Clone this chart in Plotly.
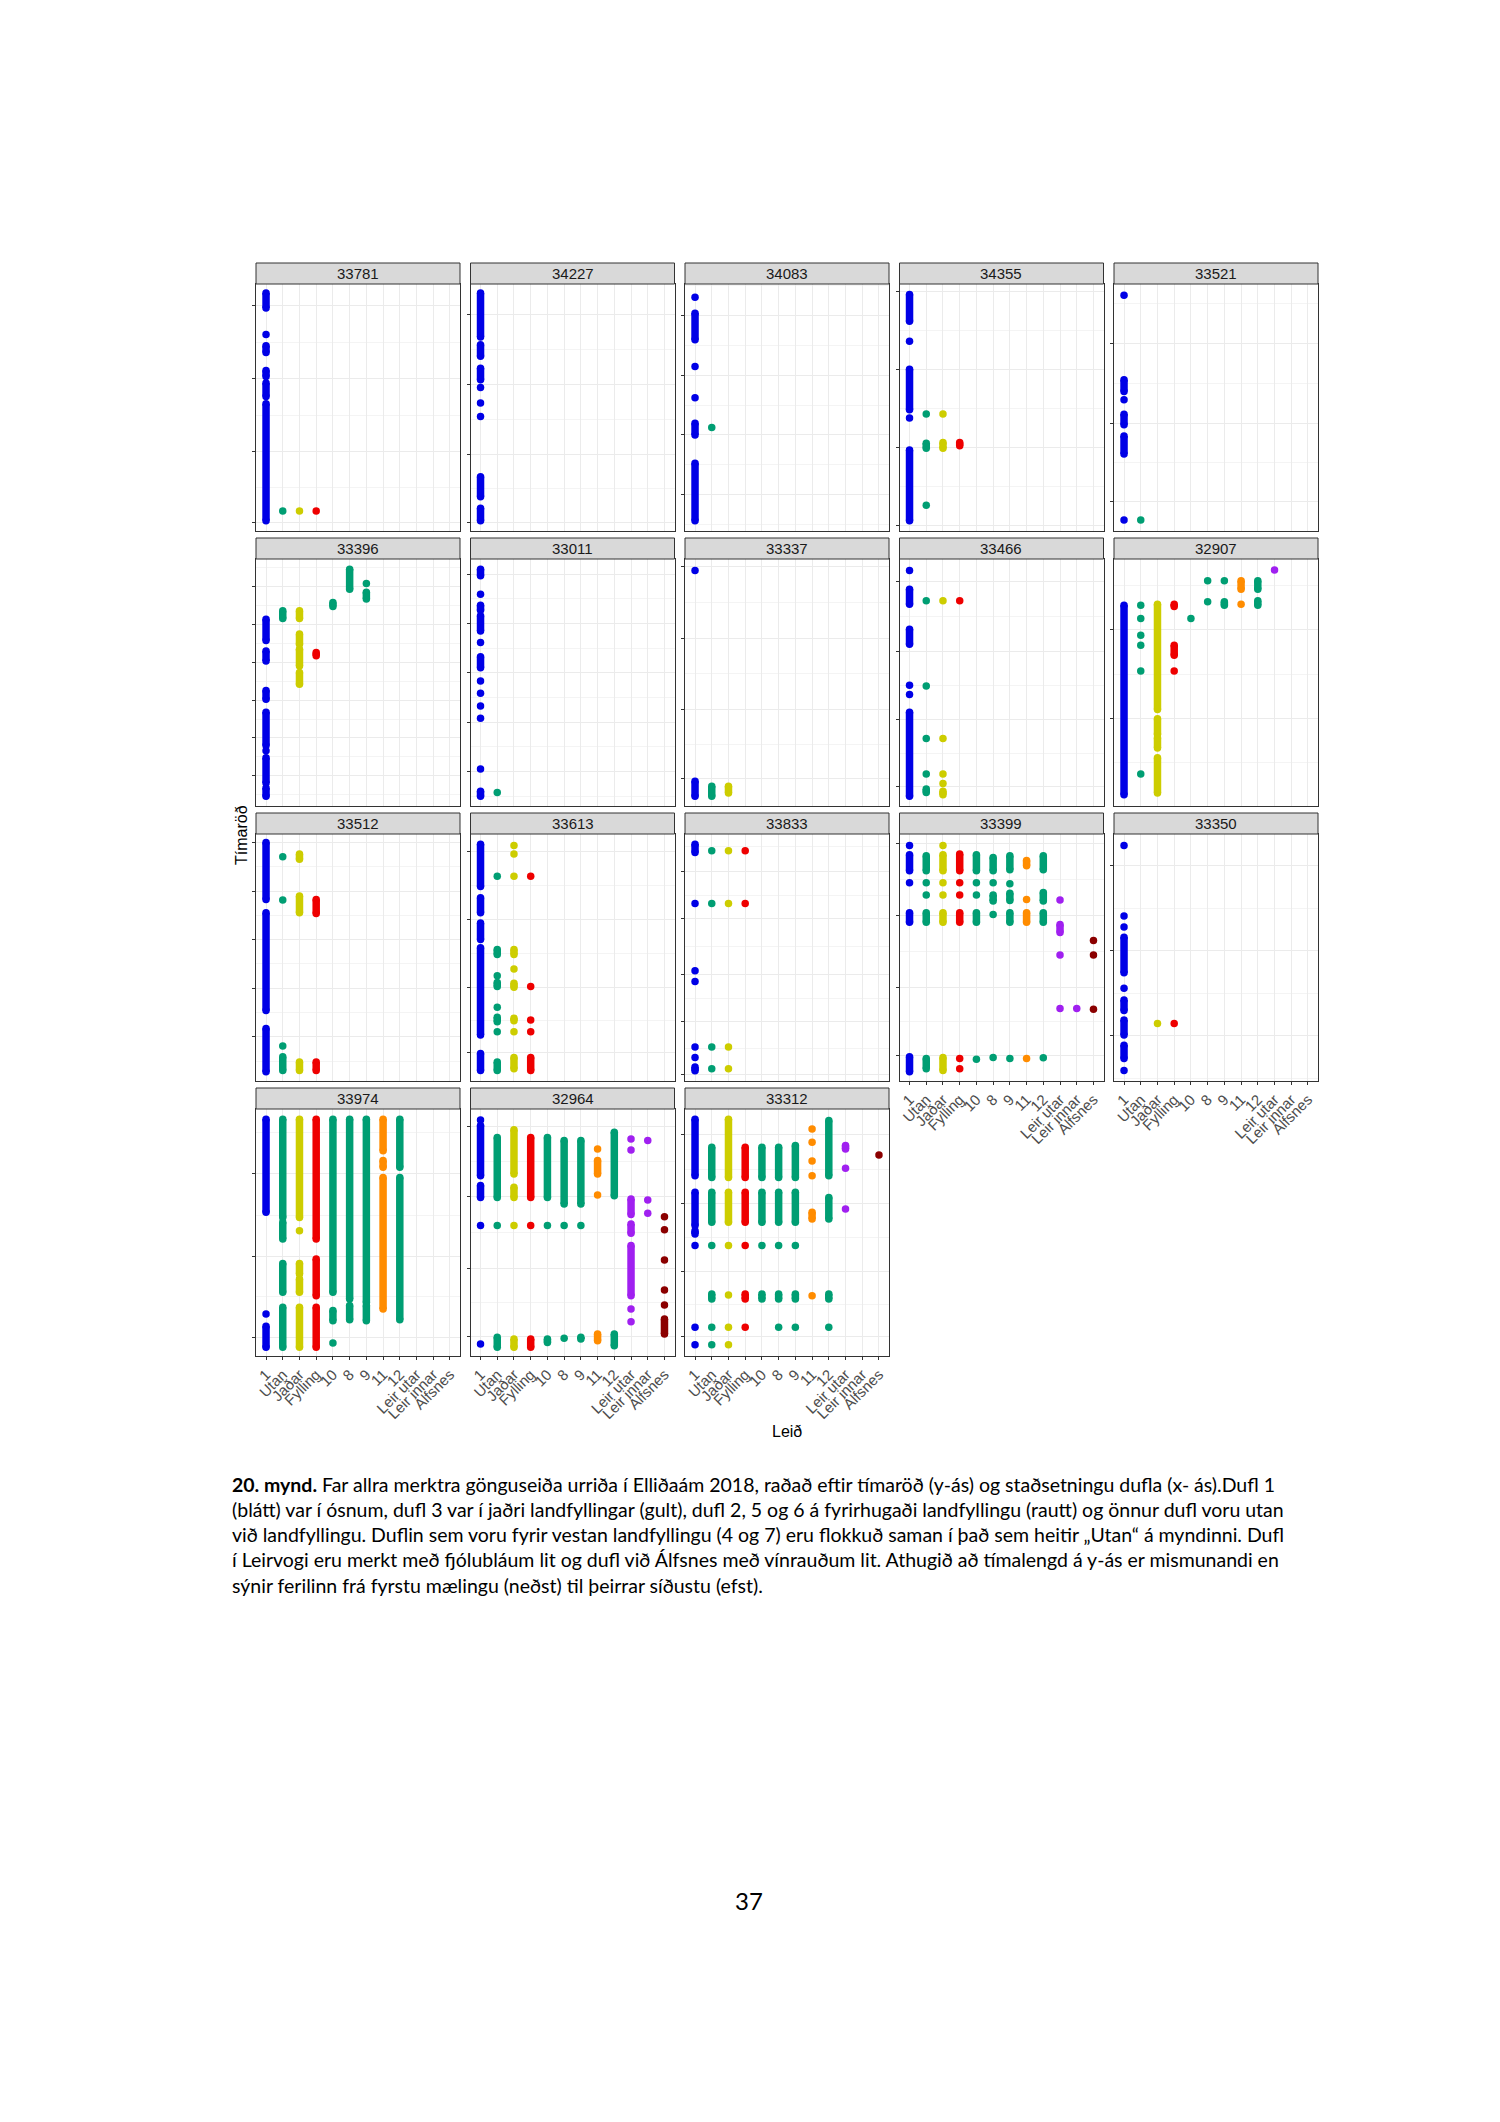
import plotly.graph_objects as go

# ---------------- data ----------------
CATEGORIES = ["1", "Utan", "Jaðar", "Fylling", "10", "8", "9", "11", "12",
              "Leir utar", "Leir innar", "Álfsnes"]
CAT_COLORS = ["#0000E6", "#009E73", "#CDCD00", "#EE0000", "#009E73", "#009E73",
              "#009E73", "#FF8C00", "#009E73", "#A020F0", "#A020F0", "#8B0000"]

PANEL_ORDER = ["33781", "34227", "34083", "34355", "33521",
               "33396", "33011", "33337", "33466", "32907",
               "33512", "33613", "33833", "33399", "33350",
               "33974", "32964", "33312"]

# Time order (relative, 0 = first, 100 = last of panel range).
# A pair (lo, hi) is a run of consecutive, overlapping detections.
D_33781 = {"1": [(90.3, 96.4), 79.6, (72.3, 75.0), (62.6, 65.0), (54.5, 59.9), (4.2, 51.5)],
           "Utan": [8.1], "Jaðar": [8.1], "Fylling": [8.1]}
D_34227 = {"1": [(78.5, 96.4), (70.7, 75.4), (61.2, 65.9), 58.1, 51.8, 46.4, (13.9, 22.0), (4.2, 9.2)]}
D_34083 = {"1": [94.6, (77.4, 88.2), 66.6, 53.9, (38.9, 43.6), (4.2, 27.4)],
           "Utan": [41.9]}
D_34355 = {"1": [(84.9, 95.7), 76.8, (49.1, 65.5), 45.7, (4.2, 32.8)],
           "Utan": [47.4, (33.5, 35.5), 10.4],
           "Jaðar": [47.4, (33.5, 35.8)],
           "Fylling": [(34.5, 35.8)]}
D_33521 = {"1": [95.4, (56.5, 61.2), 53.1, (43.0, 47.3), (31.2, 38.5), 4.5],
           "Utan": [4.5]}
D_33396 = {"1": [(67.0, 75.6), (58.7, 62.8), (43.2, 46.8), (24.5, 38.0), 22.4, (9.3, 19.5), (3.9, 7.3)],
           "Utan": [(75.9, 79.0)],
           "Jaðar": [(75.9, 79.0), (65.5, 69.6), (56.7, 63.5), (49.3, 54.0)],
           "Fylling": [(60.8, 62.1)],
           "10": [(80.8, 82.4)],
           "8": [(87.8, 95.9)],
           "9": [90.1, (83.8, 86.5)]}
D_33011 = {"1": [(93.2, 95.9), 85.7, (79.3, 81.3), (70.9, 77.0), 66.2, (56.0, 60.4), 50.6, 45.6,
                 40.5, 35.5, 15.0, (3.9, 6.0)],
           "Utan": [5.5]}
D_33337 = {"1": [95.3, (3.9, 10.0)],
           "Utan": [(3.9, 8.0)],
           "Jaðar": [(5.3, 8.0)]}
D_33466 = {"1": [95.3, (81.7, 87.8), (65.5, 71.6), 48.9, 45.1, (3.9, 38.0)],
           "Utan": [83.1, 48.6, 27.3, 13.0, (5.5, 6.9)],
           "Jaðar": [83.1, 27.3, 13.0, 9.1, (4.6, 6.0)],
           "Fylling": [83.1]}
D_32907 = {"1": [(4.6, 81.3)],
           "Utan": [81.3, 75.9, 69.1, 65.1, 54.7, 13.0],
           "Jaðar": [(39.1, 81.7), (29.0, 35.3), (23.5, 27.6), (5.3, 19.5)],
           "Fylling": [(80.8, 81.7), (61.0, 65.1), 54.7],
           "10": [75.9],
           "8": [91.2, 82.7],
           "9": [91.2, (81.3, 82.7)],
           "11": [(87.8, 91.2), 81.7],
           "12": [(87.8, 91.2), (81.3, 83.1)],
           "Leir utar": [95.5]}
D_33512 = {"1": [(73.5, 96.6), (28.5, 68.1), (3.7, 21.3)],
           "Utan": [90.8, 73.3, 14.2, (4.3, 9.8)],
           "Jaðar": [(89.8, 91.9), (68.1, 74.9), (4.3, 7.7)],
           "Fylling": [(67.8, 73.5), (4.3, 7.7)]}
D_33613 = {"1": [(78.7, 95.9), (68.1, 74.2), (57.3, 64.0), (18.6, 53.9), (4.3, 11.1)],
           "Utan": [82.9, (51.2, 53.2), 42.6, (38.3, 39.9), 29.9, (24.0, 25.8), 19.9, (4.3, 7.7)],
           "Jaðar": [95.3, 91.9, 82.9, (51.2, 53.2), 45.3, (38.0, 39.6), (24.4, 25.4), 19.9, (5.0, 9.5)],
           "Fylling": [82.9, 38.3, 24.7, 19.9, (4.3, 9.5)]}
D_33833 = {"1": [(92.5, 95.9), 71.9, 44.6, 40.3, 13.8, 9.5, (4.1, 5.7)],
           "Utan": [93.2, 71.9, 13.8, 5.0],
           "Jaðar": [93.2, 71.9, 13.8, 5.0],
           "Fylling": [93.2, 71.9]}
D_33399 = {"1": [95.3, (85.1, 91.6), 80.3, (64.3, 68.1), (3.7, 9.8)],
           "Utan": [(85.1, 91.2), 80.3, 75.3, (64.3, 68.1), (5.0, 9.1)],
           "Jaðar": [95.3, (85.1, 91.6), 80.3, 75.3, (64.3, 68.1), (4.3, 9.5)],
           "Fylling": [(85.1, 91.9), 80.3, 75.3, (64.3, 68.1), 9.1, 5.0],
           "10": [(85.1, 91.6), 80.3, 75.3, (64.3, 68.1), 8.8],
           "8": [(85.1, 90.5), 80.3, (72.9, 75.3), 67.4, 9.5],
           "9": [(85.5, 91.2), 79.9, (73.1, 76.0), (64.3, 68.1), 9.1],
           "11": [(87.1, 89.3), 73.5, (64.3, 68.1), 9.1],
           "12": [(85.5, 91.2), (72.9, 76.3), (64.3, 68.1), 9.4],
           "Leir utar": [73.3, (60.1, 63.4), 51.0, 29.4],
           "Leir innar": [29.4],
           "Álfsnes": [56.9, 51.0, 29.0]}
D_33350 = {"1": [95.3, 66.8, 62.3, (43.8, 58.2), 37.6, (28.5, 32.8), (18.6, 24.7), (9.1, 14.5), 4.3],
           "Jaðar": [23.3],
           "Fylling": [23.3]}
D_33974 = {"1": [(58.2, 95.9), 17.0, (3.5, 12.0)],
           "Utan": [(56.1, 95.9), (47.4, 54.1), (25.8, 37.5), (3.5, 19.7)],
           "Jaðar": [(56.1, 95.9), 50.7, (33.2, 37.5), (25.8, 31.2), (3.5, 19.7)],
           "Fylling": [(47.4, 95.9), (24.4, 39.3), (3.5, 19.7)],
           "10": [(25.8, 95.9), (14.3, 18.4), 5.3],
           "8": [(23.1, 95.9), (14.7, 20.4)],
           "9": [(21.7, 95.9), (14.3, 20.4)],
           "11": [(83.1, 95.9), (76.4, 79.1), (19.0, 72.3)],
           "12": [(76.4, 95.9), (14.7, 72.3)]}
D_32964 = {"1": [95.5, (73.0, 93.3), (64.2, 69.0), 52.8, 4.9],
           "Utan": [(64.2, 88.5), 52.8, (3.5, 7.6)],
           "Jaðar": [(73.7, 91.6), (64.2, 68.3), 52.8, (3.5, 6.9)],
           "Fylling": [(64.2, 88.5), 52.8, (3.5, 6.9)],
           "10": [(64.2, 88.5), 52.8, (5.5, 6.9)],
           "8": [(61.5, 87.2), 52.8, 7.2],
           "9": [(61.5, 87.2), 52.8, (6.9, 7.6)],
           "11": [83.8, (73.7, 79.1), 65.2, (6.2, 8.9)],
           "12": [(64.9, 90.6), (4.2, 8.9)],
           "Leir utar": [87.9, 83.4, (57.3, 63.6), (49.7, 53.4), (24.4, 44.7), 19.0, 13.9],
           "Leir innar": [87.2, 63.2, 57.8],
           "Álfsnes": [56.4, 51.1, 38.9, 26.7, 20.6, (8.9, 15.0)]}
D_33312 = {"1": [(73.0, 95.9), (52.8, 66.3), (49.4, 50.7), 44.7, 11.6, 4.6],
           "Utan": [(72.3, 84.5), (54.1, 66.3), 44.7, (23.1, 25.1), 11.6, 4.6],
           "Jaðar": [(72.3, 95.9), (54.1, 66.3), 44.7, 24.7, 11.6, 4.6],
           "Fylling": [(72.3, 84.5), (54.1, 66.3), 44.7, (23.1, 25.1), 11.6],
           "10": [(72.3, 84.5), (54.1, 66.3), 44.7, (23.1, 25.1)],
           "8": [(72.3, 84.5), (54.1, 66.3), 44.7, (23.1, 25.1), 11.6],
           "9": [(72.3, 85.2), (54.1, 66.3), 44.7, (23.1, 25.1), 11.6],
           "11": [91.9, 86.5, 78.9, 73.0, (55.5, 58.2), 24.4],
           "12": [(73.0, 95.3), (55.5, 64.2), (23.1, 25.1), 11.6],
           "Leir utar": [(83.8, 85.2), 76.0, 59.5],
           "Álfsnes": [81.4]}

# y-axis break positions per panel (free scales, unlabeled)
Y_TICKS = {
    "33781": [91.2, 61.6, 32.2, 3.4], "34227": [87.6, 59.2, 30.9, 3.4],
    "34083": [87.3, 63.1, 38.9, 14.6], "34355": [96.9, 65.5, 33.8, 2.2],
    "33521": [76.1, 43.6, 11.9], "33396": [88.8, 73.5, 58.2, 42.8, 27.6, 12.4],
    "33011": [93.8, 73.9, 53.9, 34.0, 13.9], "33337": [96.9, 67.9, 39.1, 11.1],
    "33466": [90.8, 62.7, 34.9, 8.0], "32907": [71.3, 35.5],
    "33512": [96.6, 76.9, 57.3, 37.6, 17.9], "33613": [93.1, 65.4, 37.9, 11.4],
    "33833": [84.7, 65.7, 43.0, 24.0, 2.7], "33399": [96.2, 67.2, 38.0, 10.2],
    "33350": [87.1, 52.8, 18.3], "33974": [73.8, 40.2, 7.6],
    "32964": [92.8, 64.5, 35.6, 8.0], "33312": [89.5, 61.9, 34.3, 7.8],
}

PANEL_DATA = {"33781": D_33781, "34227": D_34227, "34083": D_34083, "34355": D_34355,
              "33521": D_33521, "33396": D_33396, "33011": D_33011, "33337": D_33337,
              "33466": D_33466, "32907": D_32907, "33512": D_33512, "33613": D_33613,
              "33833": D_33833, "33399": D_33399, "33350": D_33350, "33974": D_33974,
              "32964": D_32964, "33312": D_33312}

X_TITLE = "Leið"
Y_TITLE = "Tímaröð"
CAPTION = [
    "<b>20. mynd.</b> Far allra merktra gönguseiða urriða í Elliðaám 2018, raðað eftir tímaröð (y-ás) og staðsetningu dufla (x- ás).Dufl 1",
    "(blátt) var í ósnum, dufl 3 var í jaðri landfyllingar (gult), dufl 2, 5 og 6 á fyrirhugaði landfyllingu (rautt) og önnur dufl voru utan",
    "við landfyllingu. Duflin sem voru fyrir vestan landfyllingu (4 og 7) eru flokkuð saman í það sem heitir „Utan“ á myndinni. Dufl",
    "í Leirvogi eru merkt með fjólubláum lit og dufl við Álfsnes með vínrauðum lit. Athugið að tímalengd á y-ás er mismunandi en",
    "sýnir ferilinn frá fyrstu mælingu (neðst) til þeirrar síðustu (efst).",
]
PAGE_NUMBER = "37"

# ---------------- layout geometry (page pixels) ----------------
OFF = 8                      # default body margin of the html page
W, H = 1500 - 2 * OFF, 2122 - 2 * OFF
COL_LEFT0, COL_PITCH, PANEL_W = 256, 214.5, 204
ROW_TOP0, ROW_PITCH, STRIP_H, PANEL_TOTAL_H = 263, 275, 21, 268
BOTTOM_PANELS = {"33399", "33350", "33974", "32964", "33312"}
FONT = "Liberation Sans, Arial, sans-serif"
DOT = 7.5


def px(x):
    return (x - OFF) / W


def py(y):
    return 1 - (y - OFF) / H


fig = go.Figure()
layout = dict(width=W, height=H, autosize=False, margin=dict(l=0, r=0, t=0, b=0),
              paper_bgcolor="white", plot_bgcolor="white", showlegend=False,
              font=dict(family=FONT))
shapes, annotations = [], []

for i, pid in enumerate(PANEL_ORDER):
    r, c = divmod(i, 5)
    left = COL_LEFT0 + COL_PITCH * c
    right = left + PANEL_W
    strip_top = ROW_TOP0 + ROW_PITCH * r
    plot_top = strip_top + STRIP_H
    plot_bottom = strip_top + PANEL_TOTAL_H
    suf = "" if i == 0 else str(i + 1)
    bottom = pid in BOTTOM_PANELS

    for cat, obs in PANEL_DATA[pid].items():
        col = CAT_COLORS[CATEGORIES.index(cat)]
        xs, ys = [], []
        for o in obs:
            if isinstance(o, tuple):
                xs += [cat, cat, None]
                ys += [o[0], o[1], None]
            else:
                xs += [cat, None]
                ys += [o, None]
        fig.add_trace(go.Scatter(x=xs, y=ys, mode="lines+markers",
                                 line=dict(color=col, width=DOT),
                                 marker=dict(color=col, size=DOT, line=dict(width=0)),
                                 connectgaps=False, hoverinfo="skip",
                                 xaxis="x" + suf, yaxis="y" + suf))

    ticks = Y_TICKS[pid]
    ts = sorted(ticks)
    step = (ts[-1] - ts[0]) / (len(ts) - 1)
    minor = [(a + b) / 2 for a, b in zip(ts[:-1], ts[1:])]
    if ts[0] - step / 2 > 0:
        minor.append(ts[0] - step / 2)
    if ts[-1] + step / 2 < 100:
        minor.append(ts[-1] + step / 2)

    layout["xaxis" + suf] = dict(
        domain=[px(left), px(right)], anchor="y" + suf, type="category",
        categoryorder="array", categoryarray=CATEGORIES, range=[-0.6, 11.6],
        tickmode="array", tickvals=CATEGORIES, ticktext=CATEGORIES,
        showgrid=True, gridcolor="#EBEBEB", gridwidth=1, zeroline=False,
        showline=True, mirror=True, linecolor="#333333", linewidth=1,
        ticks="outside" if bottom else "", ticklen=3, tickcolor="#333333",
        showticklabels=bottom, tickangle=-45,
        tickfont=dict(family=FONT, size=15, color="#4D4D4D"), fixedrange=True)
    layout["yaxis" + suf] = dict(
        domain=[py(plot_bottom), py(plot_top)], anchor="x" + suf, range=[0, 100],
        tickmode="array", tickvals=ticks, showticklabels=False,
        ticks="outside", ticklen=3, tickcolor="#333333",
        showgrid=True, gridcolor="#EBEBEB", gridwidth=1, zeroline=False,
        minor=dict(tickmode="array", tickvals=minor, showgrid=True,
                   gridcolor="#F4F4F4", gridwidth=0.6, ticks=""),
        showline=True, mirror=True, linecolor="#333333", linewidth=1, fixedrange=True)

    shapes.append(dict(type="rect", xref="paper", yref="paper",
                       x0=px(left), x1=px(right), y0=py(plot_top), y1=py(strip_top),
                       fillcolor="#D9D9D9", line=dict(color="#333333", width=1), layer="above"))
    annotations.append(dict(text=pid, xref="paper", yref="paper",
                            x=(px(left) + px(right)) / 2, y=(py(plot_top) + py(strip_top)) / 2,
                            xanchor="center", yanchor="middle", showarrow=False,
                            font=dict(family=FONT, size=15, color="#1A1A1A")))

annotations.append(dict(text=Y_TITLE, xref="paper", yref="paper", x=px(241), y=py(835),
                        textangle=-90, showarrow=False, xanchor="center", yanchor="middle",
                        font=dict(family=FONT, size=16, color="black")))
annotations.append(dict(text=X_TITLE, xref="paper", yref="paper", x=px(787), y=py(1431),
                        showarrow=False, xanchor="center", yanchor="middle",
                        font=dict(family=FONT, size=16, color="black")))

for k, line in enumerate(CAPTION):
    annotations.append(dict(text=line, xref="paper", yref="paper", x=px(230),
                            y=py(1484 + 25.3 * k), xanchor="left", yanchor="middle",
                            showarrow=False, font=dict(family="Lato", size=19.5, color="black")))
annotations.append(dict(text=PAGE_NUMBER, xref="paper", yref="paper", x=px(749), y=py(1900),
                        showarrow=False, xanchor="center", yanchor="middle",
                        font=dict(family="Lato", size=24, color="black")))

layout["shapes"] = shapes
layout["annotations"] = annotations
fig.update_layout(**layout)
fig.write_html("out.html")
